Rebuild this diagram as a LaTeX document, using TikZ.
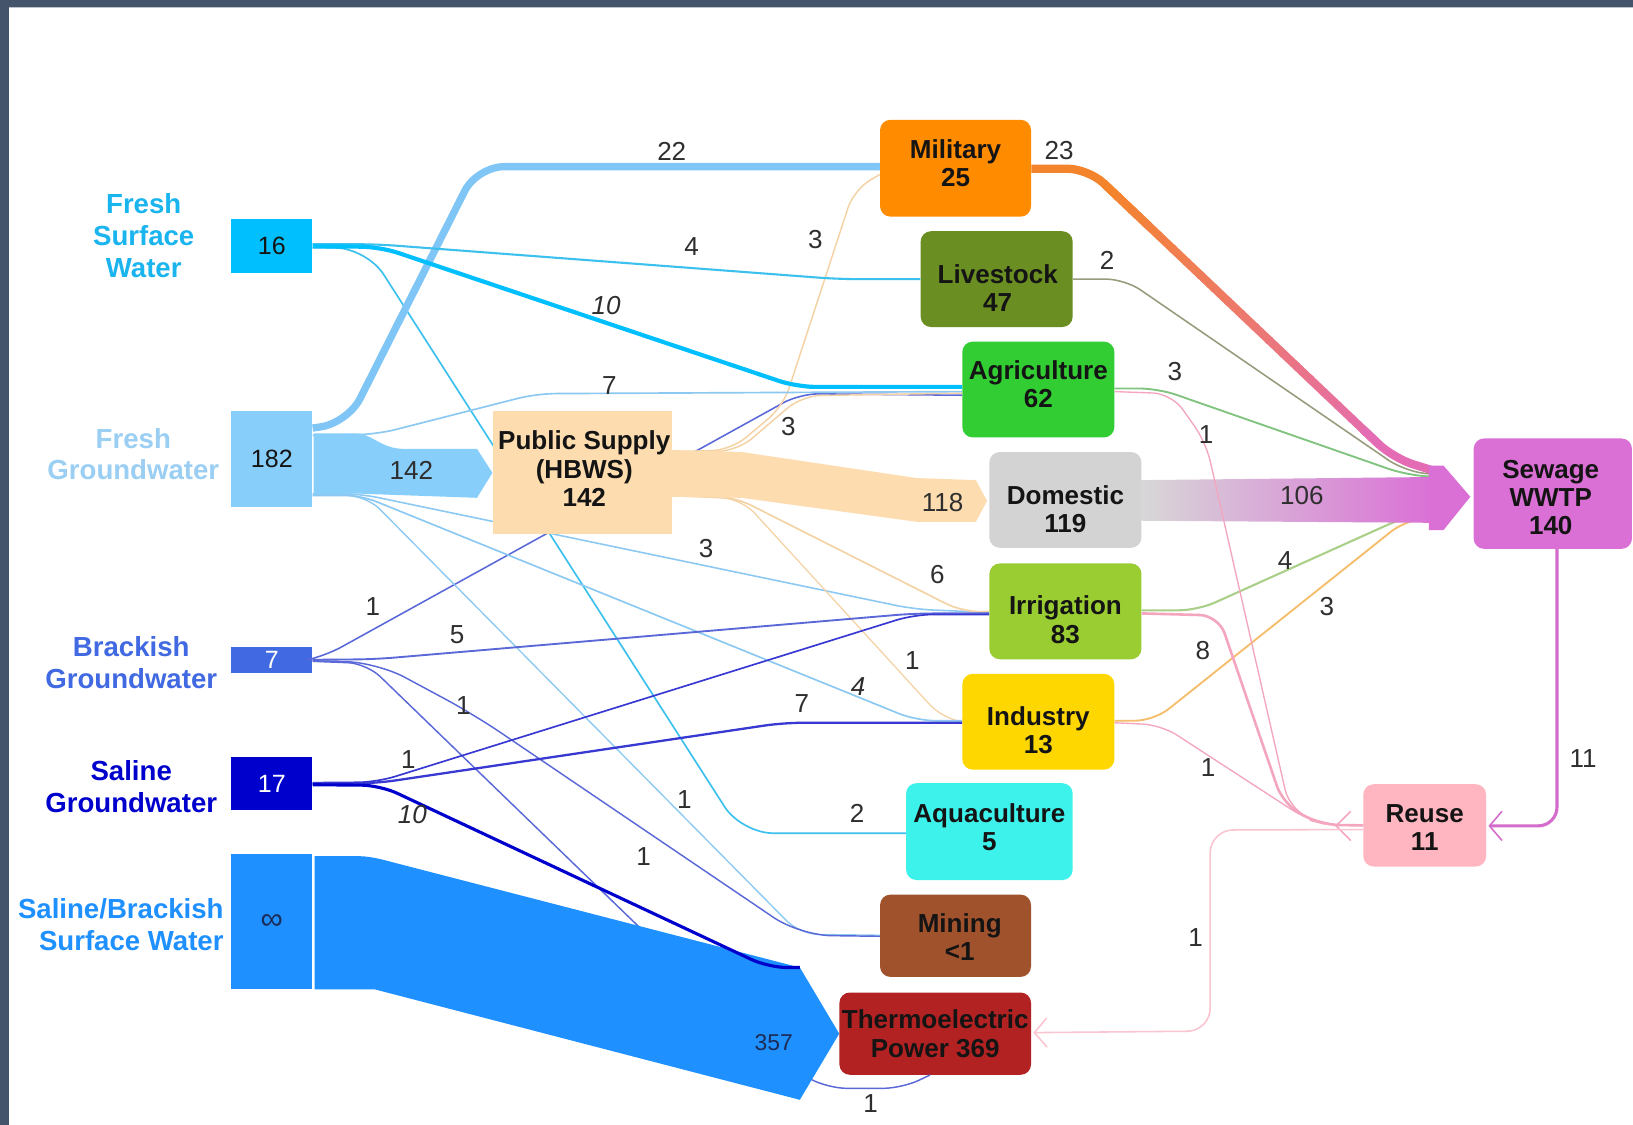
\documentclass[tikz,border=0pt]{standalone}
\usepackage{fontspec}
\setmainfont{Liberation Sans}
\usetikzlibrary{calc,arrows.meta}

% palette
\definecolor{frame}{HTML}{44546A}
\definecolor{ink}{HTML}{141414}
\definecolor{numink}{HTML}{2E2E2E}
\definecolor{cFSW}{HTML}{00BFFF}
\definecolor{cFSWtext}{HTML}{1AB4EE}
\definecolor{cFSWthin}{HTML}{3CC0EE}
\definecolor{cFGW}{HTML}{87CEFA}
\definecolor{cFGWtext}{HTML}{9ACEF3}
\definecolor{cFGWline}{HTML}{8CC9F2}
\definecolor{cFGW22}{HTML}{7FC6F6}
\definecolor{cBGW}{HTML}{4169E1}
\definecolor{cBGWline}{HTML}{5A68D8}
\definecolor{cSGW}{HTML}{0000CD}
\definecolor{cSGWline}{HTML}{3838D2}
\definecolor{cSBSW}{HTML}{1E90FF}
\definecolor{cPS}{HTML}{FDDCB0}
\definecolor{cPSline}{HTML}{F5D2A4}
\definecolor{cMil}{HTML}{FF8C00}
\definecolor{cMilLine}{HTML}{F4842C}
\definecolor{cLive}{HTML}{6B8E23}
\definecolor{cLiveLine}{HTML}{969C7C}
\definecolor{cAgri}{HTML}{32CD32}
\definecolor{cAgriLine}{HTML}{80C480}
\definecolor{cDom}{HTML}{D3D3D3}
\definecolor{cIrr}{HTML}{9ACD32}
\definecolor{cIrrLine}{HTML}{AACF88}
\definecolor{cInd}{HTML}{FFD700}
\definecolor{cIndLine}{HTML}{F6BE6C}
\definecolor{cAqua}{HTML}{3EF2EC}
\definecolor{cMine}{HTML}{A0522D}
\definecolor{cTherm}{HTML}{B22222}
\definecolor{cSew}{HTML}{DA70D6}
\definecolor{cSewLine}{HTML}{D46CCC}
\definecolor{cSewPink}{HTML}{E46CB4}
\definecolor{cReuse}{HTML}{FFB6C1}
\definecolor{cPink}{HTML}{F3A6BE}
\definecolor{cPinkPale}{HTML}{FAC4D0}
\definecolor{bandnum}{HTML}{1C2C58}

\begin{document}
\begin{tikzpicture}[x=1pt,y=-1pt,
  srcbox/.style={rectangle, minimum width=78pt, inner sep=0pt, font=\fontsize{24}{28}\selectfont},
  usebox/.style={rectangle, rounded corners=10pt, inner sep=0pt},
  boxtext/.style={inner sep=0pt, align=center, font=\fontsize{25}{27}\selectfont\bfseries, text=ink},
  srclabel/.style={align=center, inner sep=0pt, font=\fontsize{26.5}{30.5}\selectfont\bfseries},
  num/.style={inner sep=0pt, text=numink, font=\fontsize{25}{28}\selectfont},
  inum/.style={inner sep=0pt, text=numink, font=\fontsize{25}{28}\selectfont\itshape},
  link/.style={rounded corners=18pt},
  chevron/.style={-{Straight Barb[length=12pt,width=28pt,line width=1.5pt]}},
]
\useasboundingbox (0,0) rectangle (1568,1080);
\fill[white] (0,0) rectangle (1568,1080);
\clip (0,0) rectangle (1568,1080);
\fill[frame] (0,0) rectangle (1568,7);
\fill[frame] (0,0) rectangle (9,1080);
\draw[frame!35, line width=1pt] (9,7.5) -- (1568,7.5);

% ---------------- sources ----------------
\node[srcbox, fill=cFSW,  minimum height=52pt, text=ink]   (fsw)  at (261,236)   {16};
\node[srcbox, fill=cFGW,  minimum height=92pt, text=ink]   (fgw)  at (261,441)   {182};
\node[srcbox, fill=cBGW,  minimum height=25pt, text=white] (bgw)  at (261,633.5) {7};
\node[srcbox, fill=cSGW,  minimum height=51pt, text=white] (sgw)  at (261,752.5) {17};
\node[srcbox, fill=cSBSW, minimum height=130pt, text=bandnum,
      font=\fontsize{30}{30}\selectfont] (sbsw) at (261,885) {∞};

\node[srclabel, text=cFSWtext] (lfsw)  at (138,226) {Fresh\\Surface\\Water};
\node[srclabel, text=cFGWtext] (lfgw)  at (128,436) {Fresh\\Groundwater};
\node[srclabel, text=cBGW]     (lbgw)  at (126,636) {Brackish\\Groundwater};
\node[srclabel, text=cSGW]     (lsgw)  at (126,755) {Saline\\Groundwater};
\node[srclabel, text=cSBSW, align=right] (lsbsw) at (116,888) {Saline/Brackish\\Surface Water};

% ---------------- uses ----------------
\node[usebox, fill=cMil,   minimum width=145pt, minimum height=93pt] (mil)   at (917.5,161.5) {};
\node[boxtext] (milt) at ($(mil.center)+(0,-5)$) {Military\\25};
\node[usebox, fill=cLive,  minimum width=146pt, minimum height=92pt] (live)  at (957,268) {};
\node[boxtext] (livet) at ($(live.center)+(1,9)$) {Livestock\\47};
\node[usebox, fill=cAgri,  minimum width=146pt, minimum height=92pt] (agri)  at (997,374) {};
\node[boxtext] (agrit) at ($(agri.center)+(0,-5)$) {Agriculture\\62};
\node[usebox, fill=cDom,   minimum width=146pt, minimum height=92pt] (dom)   at (1023,480) {};
\node[boxtext] (domt) at ($(dom.center)+(0,9)$) {Domestic\\119};
\node[usebox, fill=cIrr,   minimum width=146pt, minimum height=92pt] (irr)   at (1023,587) {};
\node[boxtext] (irrt) at ($(irr.center)+(0,8)$) {Irrigation\\83};
\node[usebox, fill=cInd,   minimum width=146pt, minimum height=92pt] (ind)   at (997,693) {};
\node[boxtext] (indt) at ($(ind.center)+(0,8)$) {Industry\\13};
\node[usebox, fill=cAqua,  minimum width=160pt, minimum height=93pt] (aqua)  at (950,798.5) {};
\node[boxtext] (aquat) at ($(aqua.center)+(0,-4)$) {Aquaculture\\5};
\node[usebox, fill=cMine,  minimum width=145pt, minimum height=79pt] (mine)  at (917.5,898.5) {};
\node[boxtext] (minet) at ($(mine.center)+(4,1)$) {Mining\\<1};
\node[usebox, fill=cTherm, minimum width=184pt, minimum height=79pt] (therm) at (898,992.5) {};
\node[boxtext] (thermt) at (therm.center) {Thermoelectric\\Power 369};
\node[usebox, fill=cSew,   minimum width=152pt, minimum height=106pt] (sew)  at (1491,474) {};
\node[boxtext] (sewt) at ($(sew.center)+(-2,4)$) {Sewage\\WWTP\\140};
\node[usebox, fill=cReuse, minimum width=118pt, minimum height=79pt] (reuse) at (1368,792.5) {};
\node[boxtext] (reuset) at ($(reuse.center)+(0,2)$) {Reuse\\11};

% ---------------- links running behind the public supply box ----------------
\draw[link, cFSWthin, line width=1.6pt, rounded corners=30pt]
  ($(fsw.east)+(0,2)$) -- (352,238) -- (712,800) -- ($(aqua.west)+(0,1.5)$);
\draw[link, cFGWline, line width=1.5pt]
  ($(fgw.east)+(0,33)$) -- (345,474) -- (878,585) -- ($(irr.west)+(0,1)$);
\draw[link, cBGWline, line width=1.5pt]
  ($(bgw.east)+(0,-1)$) -- (312,630) -- (768,378) -- ($(agri.west)+(0,5.5)$);

\node[rectangle, fill=cPS, minimum width=172pt, minimum height=118pt, inner sep=0pt] (ps) at (559,454) {};
\node[boxtext] (pst) at ($(ps.center)+(2,-4)$) {Public Supply\\(HBWS)\\142};

% ---------------- public supply outflows ----------------
\draw[link, cPSline, line width=1.4pt]
  ($(ps.east)+(0,-20)$) -- (702,432) -- (752,390) -- (820,182) -- ($(mil.west)+(0,6)$);
\draw[link, cPSline, line width=1.4pt]
  ($(ps.east)+(0,-20)$) -- (708,433) -- (770,380) -- ($(agri.west)+(0,3.5)$);
\draw[link, cPSline, line width=1.6pt]
  ($(ps.east)+(0,20)$) -- (705,477) -- (925,588) -- (irr.west);
\draw[link, cPSline, line width=1.2pt]
  ($(ps.east)+(0,22)$) -- (712,479) -- (905,690) -- (ind.west);
\fill[cPS] ($(ps.east)+(-1,-22)$) -- (712,434) -- (880,459) -- (937,461) -- ($(dom.west)+(-2,1)$)
  -- (937,501) -- (880,501) -- (712,478) -- ($(ps.east)+(-1,23)$) -- cycle;

% ---------------- fresh groundwater ----------------
\draw[link, cFGW22, line width=7pt, rounded corners=26pt]
  ($(fgw.east)+(0,-30)$) -- (334,406) -- (458,160) -- ($(mil.west)+(0,-1.5)$);
\draw[link, cFGWline, line width=1.6pt]
  ($(fgw.east)+(0,-23)$) -- (362,417) -- (515,378) -- ($(agri.west)+(0,2)$);
\draw[link, cFGWline, line width=1.6pt]
  ($(fgw.east)+(0,34)$) -- (345,475) -- (880,692) -- ($(ind.west)+(0,-1)$);
\draw[link, cFGWline, line width=1.3pt]
  ($(fgw.east)+(0,35)$) -- (352,476) -- (768,897) -- ($(mine.west)+(0,-0.5)$);
\fill[cFGW] ($(fgw.east)+(1,-25)$) -- (340,416) .. controls (358,416) and (365,431) .. (388,431)
  -- (458,431) -- (ps.west) -- (458,478) -- (345,474) -- ($(fgw.east)+(1,33)$) -- cycle;

% ---------------- fresh surface water ----------------
\draw[link, cFSWthin, line width=2pt]
  ($(fsw.east)+(0,-1.5)$) -- (362,234.5) -- (805,268) -- (live.west);
\draw[link, cFSW, line width=4pt]
  ($(fsw.east)+(0,0.5)$) -- (365,237) -- (765,371.5) -- ($(agri.west)+(0,-2.5)$);

% ---------------- brackish groundwater ----------------
\draw[link, cBGWline, line width=1.8pt]
  (bgw.east) -- (360,633) -- (878,589) -- ($(irr.west)+(0,2)$);
\draw[link, cBGWline, line width=1.4pt, rounded corners=30pt]
  ($(bgw.east)+(0,1)$) -- (362,636) -- (455,686) -- (768,898) -- ($(mine.west)+(0,0.5)$);
\draw[link, cBGWline, line width=1.4pt]
  ($(bgw.east)+(0,1.5)$) -- (352,637) -- (748,1020) -- (795,1045) -- (866,1045) -- ($(therm.south)+(-5,0)$);

% ---------------- saline groundwater ----------------
\draw[link, cSGWline, line width=1.6pt]
  ($(sgw.east)+(0,-1)$) -- (362,751) -- (878,590) -- ($(irr.west)+(0,3)$);
\draw[link, cSGWline, line width=2.2pt]
  (sgw.east) -- (362,752) -- (752,694) -- ($(ind.west)+(0,1)$);

% ---------------- saline / brackish surface water ----------------
\coordinate (bandtop) at (768,929);
\fill[cSBSW] ($(sbsw.east)+(2,-63)$) -- (340,822) .. controls (356,822) and (362,824) .. (385,830)
  -- (bandtop) -- (therm.west) -- (768,1056) -- (360,950) -- ($(sbsw.east)+(2,65)$) -- cycle;
\draw[link, cSGW, line width=3pt]
  ($(sgw.east)+(0,1)$) -- (365,754) -- (738,929) -- (bandtop);

% ---------------- flows into sewage ----------------
\draw[link, cLiveLine, line width=1.5pt]
  (live.east) -- (1080,268) -- (1348,452) -- (1380,456);
\draw[link, cAgriLine, line width=1.8pt]
  ($(agri.east)+(0,-1)$) -- (1112,373) -- (1350,456) -- (1380,458);
\draw[link, cIrrLine, line width=2pt]
  ($(irr.east)+(0,-1)$) -- (1150,586) -- (1350,496) -- (1380,494);
\draw[link, cIndLine, line width=1.8pt]
  ($(ind.east)+(0,-1)$) -- (1108,692) -- (1350,499) -- (1380,497);
% military outflow, orange fading to pink
\coordinate (mA) at (1045,162);
\coordinate (mB) at (1338,440);
\draw[link, cMilLine, line width=8pt, rounded corners=20pt]
  ($(mil.east)+(0,0.5)$) -- (mA) -- ($(mA)!0.2!(mB)$);
\foreach \i in {0,...,19}{
  \pgfmathtruncatemacro\pct{100-5*\i}
  \draw[line width=8pt, color=cMilLine!\pct!cSewPink]
    ($(mA)!{0.05+0.045*\i}!(mB)$) -- ($(mA)!{0.1+0.045*\i}!(mB)$);
}
\draw[cSewPink, line width=8pt, rounded corners=20pt]
  ($(mA)!0.9!(mB)$) -- (mB) -- (1380,453);
% domestic outflow band
\shade[left color=cDom!90!white, right color=cSew]
  ($(dom.east)+(0,-19)$) -- (1376,458) -- (1376,502) -- ($(dom.east)+(0,20)$) -- cycle;
\fill[cSew] (1372,447) -- (1386,447) -- ($(sew.west)+(-3,3)$) -- (1386,509) -- (1372,509) -- cycle;

% ---------------- reuse ----------------
\draw[link, cPink, line width=1.3pt]
  ($(agri.east)+(0,2)$) -- (1125,378) -- (1158,425) -- (1238,776) -- (1270,792) -- (reuse.west);
\draw[link, cPink, line width=2.5pt]
  ($(irr.east)+(0,2)$) -- (1170,591) -- (1232,772) -- (1268,792) -- (reuse.west);
\draw[link, cPink, line width=1.3pt]
  ($(ind.east)+(0,1)$) -- (1115,696) -- (1255,787) -- (1275,792) -- (reuse.west);
\draw[cPink, line width=1.5pt] (1297,779) -- (1283,793) -- (1297,807);
\draw[link, cSewLine, line width=3pt, chevron]
  ($(sew.south)+(4,0)$) -- (1495,793) -- ($(reuse.east)+(2,0.5)$);
\draw[link, cPinkPale, line width=1.5pt, rounded corners=22pt, chevron]
  ($(reuse.west)+(0,4)$) -- (1162,797) -- (1162,990) -- ($(therm.east)+(2,-1)$);

% ---------------- flow values ----------------
\node[num]  (v1)  at (645,145)  {22};
\node[num]  (v2)  at (664,237)  {4};
\node[inum] (v3)  at (582,293)  {10};
\node[num]  (v4)  at (783,230)  {3};
\node[num]  (v5)  at (585,370)  {7};
\node[num]  (v6)  at (757,410)  {3};
\node[num]  (v7)  at (395,452)  {142};
\node[num]  (v8)  at (905,483)  {118};
\node[num]  (v9)  at (358,582)  {1};
\node[num]  (v10) at (439,609)  {5};
\node[num]  (v11) at (678,527)  {3};
\node[num]  (v12) at (900,552)  {6};
\node[num]  (v13) at (876,634)  {1};
\node[inum] (v14) at (824,659)  {4};
\node[num]  (v15) at (770,676)  {7};
\node[num]  (v16) at (445,677)  {1};
\node[num]  (v17) at (392,729)  {1};
\node[inum] (v18) at (396,782)  {10};
\node[num]  (v19) at (657,768)  {1};
\node[num]  (v20) at (823,781)  {2};
\node[num]  (v21) at (618,822)  {1};
\node[num, text=bandnum, font=\fontsize{22}{26}\selectfont] (v22) at (743,1001) {357};
\node[num]  (v23) at (836,1060) {1};
\node[num]  (v24) at (1017,145) {23};
\node[num]  (v25) at (1063,250) {2};
\node[num]  (v26) at (1128,357) {3};
\node[num]  (v27) at (1158,417) {1};
\node[num]  (v28) at (1250,476) {106};
\node[num]  (v29) at (1234,538) {4};
\node[num]  (v30) at (1274,582) {3};
\node[num]  (v31) at (1155,625) {8};
\node[num]  (v32) at (1520,728) {11};
\node[num]  (v33) at (1160,737) {1};
\node[num]  (v34) at (1148,900) {1};
\end{tikzpicture}
\end{document}
